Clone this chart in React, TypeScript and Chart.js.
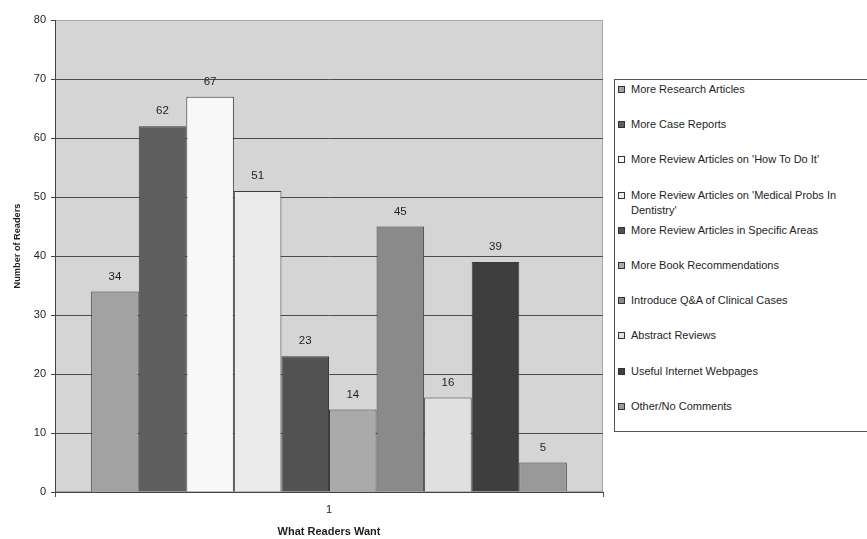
import React, { useEffect, useRef } from "react";
import { Chart, registerables } from "chart.js";

Chart.register(...registerables);

const categories = ["1"];
const seriesNames = [
  "More Research Articles",
  "More Case Reports",
  "More Review Articles on 'How To Do It'",
  "More Review Articles on 'Medical Probs In Dentistry'",
  "More Review Articles in Specific Areas",
  "More Book Recommendations",
  "Introduce Q&A of Clinical Cases",
  "Abstract Reviews",
  "Useful Internet Webpages",
  "Other/No Comments",
];
const readerCounts = [34, 62, 67, 51, 23, 14, 45, 16, 39, 5];
const seriesColors = [
  "#a2a2a2",
  "#5e5e5e",
  "#f8f8f8",
  "#ebebeb",
  "#525252",
  "#aaaaaa",
  "#8a8a8a",
  "#e0e0e0",
  "#3e3e3e",
  "#999999",
];
const yTicks = [0, 10, 20, 30, 40, 50, 60, 70, 80];
const yTitle = "Number of Readers";
const xTitle = "What Readers Want";

const FONT = "'Liberation Sans', Arial, sans-serif";
const TEXT = "#1e1e1e";

// Grey plot area with a light frame, like the spreadsheet default
const plotBackground = {
  id: "plotBackground",
  beforeDraw(chart: any) {
    const { ctx, chartArea: a } = chart;
    ctx.save();
    ctx.fillStyle = "#d5d5d5";
    ctx.fillRect(a.left, a.top, a.right - a.left, a.bottom - a.top);
    ctx.strokeStyle = "#a8a8a8";
    ctx.lineWidth = 1;
    ctx.strokeRect(a.left + 0.5, a.top + 0.5, a.right - a.left - 1, a.bottom - a.top - 1);
    ctx.restore();
  },
};

// Value above each bar plus the rotated y-axis title
const annotations = {
  id: "annotations",
  afterDatasetsDraw(chart: any) {
    const { ctx } = chart;
    ctx.save();
    ctx.font = `11.5px ${FONT}`;
    ctx.fillStyle = TEXT;
    ctx.textAlign = "center";
    ctx.textBaseline = "middle";
    chart.data.datasets.forEach((ds: any, i: number) => {
      const meta = chart.getDatasetMeta(i);
      meta.data.forEach((bar: any, j: number) => {
        ctx.fillText(String(ds.data[j]), bar.x, bar.y - 15);
      });
    });
    ctx.translate(17, 246);
    ctx.rotate(-Math.PI / 2);
    ctx.font = `bold 9.2px ${FONT}`;
    ctx.fillText(yTitle, 0, 0);
    ctx.restore();
  },
};

export default function App() {
  const canvasRef = useRef<HTMLCanvasElement | null>(null);

  useEffect(() => {
    const canvas = canvasRef.current;
    if (!canvas) return;
    const chart = new Chart(canvas, {
      type: "bar",
      data: {
        labels: categories,
        datasets: seriesNames.map((name, i) => ({
          label: name,
          data: [readerCounts[i]],
          backgroundColor: seriesColors[i],
          borderColor: "#3c3c3c",
          borderWidth: 1,
          categoryPercentage: 0.868,
          barPercentage: 1,
        })),
      },
      options: {
        responsive: false,
        animation: false,
        devicePixelRatio: 1,
        layout: { padding: { top: 20, right: 264, left: 0, bottom: 0 } },
        plugins: { legend: { display: false }, tooltip: { enabled: false } },
        scales: {
          x: {
            offset: true,
            grid: {
              display: true,
              drawOnChartArea: false,
              offset: true,
              tickLength: 5,
              color: "#555555",
            },
            border: { color: "#444444", width: 1 },
            ticks: { font: { family: FONT, size: 11 }, color: TEXT, padding: 6 },
            title: {
              display: true,
              text: xTitle,
              font: { family: FONT, size: 11, weight: "bold" },
              color: TEXT,
              padding: { top: 4, bottom: 0 },
            },
            afterFit: (s: any) => {
              s.height = 47;
            },
          },
          y: {
            min: 0,
            max: 80,
            afterBuildTicks: (s: any) => {
              s.ticks = yTicks.map((v) => ({ value: v }));
            },
            grid: {
              color: (c: any) => (c.tick && c.tick.value === 80 ? "rgba(0,0,0,0)" : "#4c4c4c"),
              tickColor: "#444444",
              tickLength: 4,
              lineWidth: 1,
            },
            border: { color: "#444444", width: 1 },
            ticks: { font: { family: FONT, size: 11 }, color: TEXT, padding: 5 },
            afterFit: (s: any) => {
              s.width = 55;
            },
          },
        },
      },
      plugins: [plotBackground, annotations],
    });
    return () => chart.destroy();
  }, []);

  return (
    <div
      style={{
        position: "absolute",
        left: 0,
        top: 0,
        width: 867,
        height: 539,
        overflow: "hidden",
        background: "#ffffff",
      }}
    >
      <canvas ref={canvasRef} width={867} height={539} style={{ width: 867, height: 539 }} />
      <div
        style={{
          position: "absolute",
          left: 614,
          top: 79,
          width: 270,
          height: 351,
          border: "1px solid #555555",
          background: "#ffffff",
          fontFamily: FONT,
          fontSize: 11,
          color: TEXT,
        }}
      >
        {seriesNames.map((name, i) => (
          <div
            key={name}
            style={{
              position: "absolute",
              left: 3,
              top: 2 + i * 35.2,
              width: 232,
              display: "flex",
              alignItems: "flex-start",
              lineHeight: "15px",
            }}
          >
            <span
              style={{
                display: "inline-block",
                width: 5,
                height: 5,
                marginTop: 4,
                marginRight: 6,
                flex: "none",
                background: seriesColors[i],
                border: "1px solid #333333",
              }}
            />
            <span>{name}</span>
          </div>
        ))}
      </div>
    </div>
  );
}
